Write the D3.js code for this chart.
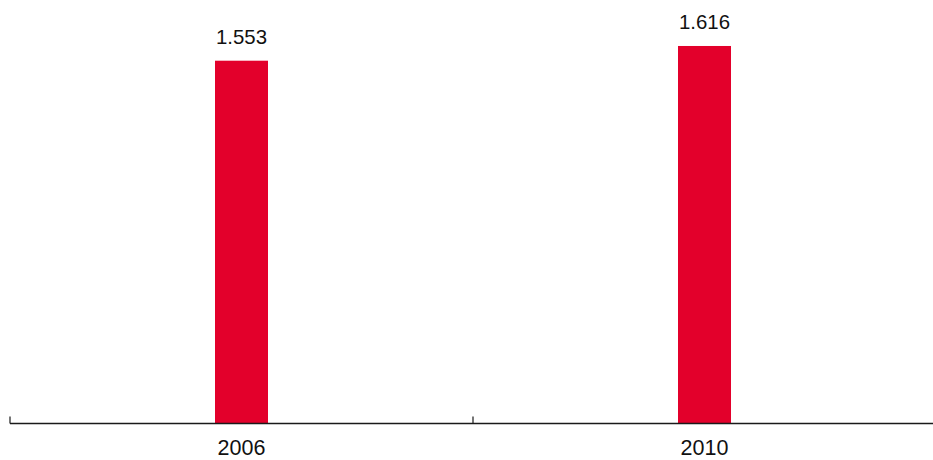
<!DOCTYPE html>
<html>
<head>
<meta charset="utf-8">
<script src="https://cdn.jsdelivr.net/npm/d3@7"></script>
<style>
  html, body { margin: 0; padding: 0; background: #fff; }
  svg { display: block; }
  text { font-family: "Liberation Sans", Arial, Helvetica, sans-serif; fill: #111; }
</style>
</head>
<body>
<svg id="chart" width="933" height="460"></svg>
<script>
const categories = ["2006", "2010"];
const values = [1.553, 1.616];
const valueLabels = ["1.553", "1.616"];

const W = 933, H = 460;
const svg = d3.select("#chart");

const x = d3.scaleBand().domain(categories).range([10, 936]).paddingInner(0).paddingOuter(0);
const y = d3.scaleLinear().domain([0, 1.8]).range([423.5, 3]);
const barW = 53;

// bars
svg.selectAll("rect.bar")
  .data(categories)
  .enter().append("rect")
  .attr("class", "bar")
  .attr("x", d => x(d) + x.bandwidth() / 2 - barW / 2)
  .attr("width", barW)
  .attr("y", (d, i) => y(values[i]))
  .attr("height", (d, i) => y(0) - y(values[i]))
  .attr("fill", "#e3002b");

// value labels
svg.selectAll("text.val")
  .data(categories)
  .enter().append("text")
  .attr("class", "val")
  .attr("x", d => x(d) + x.bandwidth() / 2)
  .attr("y", (d, i) => y(values[i]) - 17)
  .attr("text-anchor", "middle")
  .attr("font-size", "20.4px")
  .text((d, i) => valueLabels[i]);

// axis with labels (no ticks)
const axis = d3.axisBottom(x).tickSize(0).tickPadding(0);
const g = svg.append("g").attr("transform", `translate(0,${y(0)})`).call(axis);
g.select(".domain").remove();
g.selectAll("text").attr("font-size", "21.5px").attr("fill", "#111")
  .style("font-family", '"Liberation Sans", Arial, Helvetica, sans-serif')
  .attr("y", 31.5).attr("dy", 0);

// baseline
svg.append("line")
  .attr("x1", x.range()[0]).attr("x2", W)
  .attr("y1", y(0)).attr("y2", y(0))
  .attr("stroke", "#1a1a1a").attr("stroke-width", 1.6);

// boundary ticks (pointing upward)
const bounds = d3.range(categories.length).map(i => x.range()[0] + i * x.step());
svg.selectAll("line.tick")
  .data(bounds)
  .enter().append("line")
  .attr("class", "tick")
  .attr("x1", d => d).attr("x2", d => d)
  .attr("y1", y(0)).attr("y2", y(0) - 7)
  .attr("stroke", "#1a1a1a").attr("stroke-width", 1.2);
</script>
</body>
</html>
